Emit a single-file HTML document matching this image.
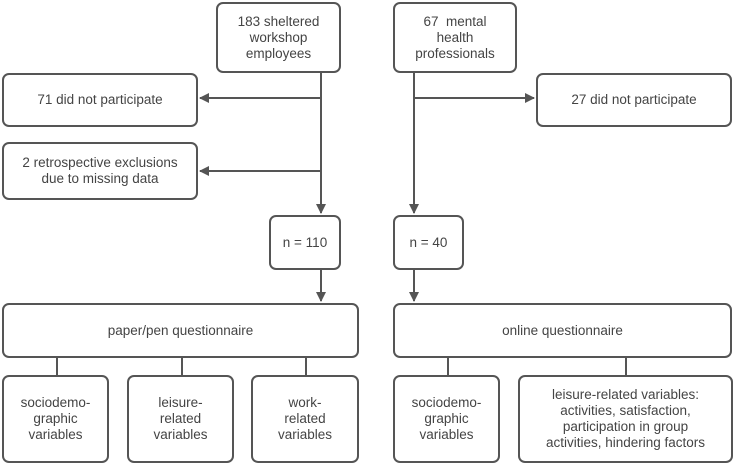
<!DOCTYPE html>
<html><head><style>
body{margin:0;width:734px;height:467px;background:#fff;position:relative;overflow:hidden;font-family:"Liberation Sans",sans-serif;}
.b{position:absolute;box-sizing:border-box;border:2px solid #555;border-radius:7px;display:flex;align-items:center;justify-content:center;text-align:center;font-size:13.5px;line-height:16px;color:#444;background:#fff;}
svg{position:absolute;left:0;top:0}
</style></head><body>
<svg width="734" height="467">
<defs><marker id="a" markerWidth="10" markerHeight="10" refX="9" refY="5" orient="auto" markerUnits="userSpaceOnUse"><path d="M0,0 L10,5 L0,10 z" fill="#555"/></marker></defs>
<g stroke="#555" stroke-width="2" fill="none">
<line x1="321" y1="73" x2="321" y2="213" marker-end="url(#a)"/>
<line x1="321" y1="98" x2="200" y2="98" marker-end="url(#a)"/>
<line x1="321" y1="171" x2="200" y2="171" marker-end="url(#a)"/>
<line x1="414" y1="73" x2="414" y2="213" marker-end="url(#a)"/>
<line x1="414" y1="98" x2="534" y2="98" marker-end="url(#a)"/>
<line x1="321" y1="270" x2="321" y2="301" marker-end="url(#a)"/>
<line x1="414" y1="270" x2="414" y2="301" marker-end="url(#a)"/>
<line x1="57" y1="357" x2="57" y2="376"/>
<line x1="182" y1="357" x2="182" y2="376"/>
<line x1="306" y1="357" x2="306" y2="376"/>
<line x1="448" y1="357" x2="448" y2="376"/>
<line x1="626" y1="357" x2="626" y2="376"/>
</g></svg>
<div class="b" style="left:216px;top:2px;width:125px;height:71px">183 sheltered<br>workshop<br>employees</div>
<div class="b" style="left:393px;top:2px;width:124px;height:71px">67&nbsp; mental<br>health<br>professionals</div>
<div class="b" style="left:2px;top:73px;width:196px;height:54px">71 did not participate</div>
<div class="b" style="left:2px;top:142px;width:196px;height:58px">2 retrospective exclusions<br>due to missing data</div>
<div class="b" style="left:536px;top:73px;width:196px;height:54px">27 did not participate</div>
<div class="b" style="left:269px;top:215px;width:72px;height:55px">n = 110</div>
<div class="b" style="left:393px;top:215px;width:71px;height:55px">n = 40</div>
<div class="b" style="left:2px;top:303px;width:357px;height:55px">paper/pen questionnaire</div>
<div class="b" style="left:393px;top:303px;width:339px;height:55px">online questionnaire</div>
<div class="b" style="left:2px;top:375px;width:107px;height:88px">sociodemo-<br>graphic<br>variables</div>
<div class="b" style="left:127px;top:375px;width:107px;height:88px">leisure-<br>related<br>variables</div>
<div class="b" style="left:251px;top:375px;width:108px;height:88px">work-<br>related<br>variables</div>
<div class="b" style="left:393px;top:375px;width:107px;height:88px">sociodemo-<br>graphic<br>variables</div>
<div class="b" style="left:518px;top:375px;width:215px;height:88px">leisure-related variables:<br>activities, satisfaction,<br>participation in group<br>activities, hindering factors</div>
</body></html>
